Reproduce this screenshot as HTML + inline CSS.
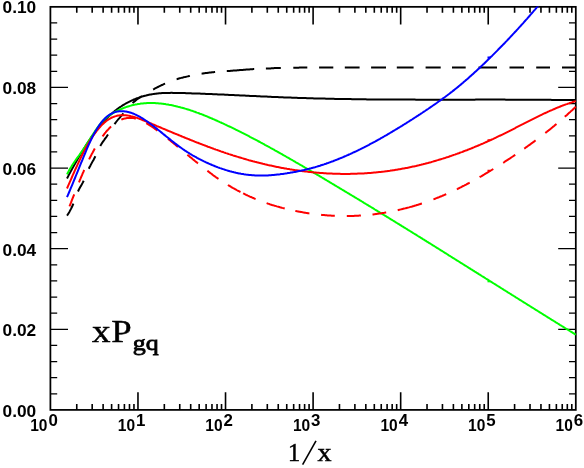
<!DOCTYPE html>
<html><head><meta charset="utf-8"><title>xPgq</title>
<style>html,body{margin:0;padding:0;background:#fff;}body{width:584px;height:468px;overflow:hidden;font-family:"Liberation Sans",sans-serif;}</style></head>
<body>
<svg width="584" height="468" viewBox="0 0 584 468" style="display:block">
<rect width="584" height="468" fill="#fff"/>
<defs><clipPath id="cp"><rect x="49.4" y="6.449999999999999" width="527.4" height="404.44999999999993"/></clipPath></defs>
<rect x="50.4" y="6.85" width="525.40" height="403.05" fill="none" stroke="#000" stroke-width="1.75"/>
<path d="M76.76,409.9v-5.9M76.76,6.85v5.9M92.18,409.9v-5.9M92.18,6.85v5.9M103.12,409.9v-5.9M103.12,6.85v5.9M111.61,409.9v-5.9M111.61,6.85v5.9M118.54,409.9v-5.9M118.54,6.85v5.9M124.40,409.9v-5.9M124.40,6.85v5.9M129.48,409.9v-5.9M129.48,6.85v5.9M133.96,409.9v-5.9M133.96,6.85v5.9M137.97,409.9v-17.6M137.97,6.85v17.6M164.33,409.9v-5.9M164.33,6.85v5.9M179.75,409.9v-5.9M179.75,6.85v5.9M190.69,409.9v-5.9M190.69,6.85v5.9M199.17,409.9v-5.9M199.17,6.85v5.9M206.11,409.9v-5.9M206.11,6.85v5.9M211.97,409.9v-5.9M211.97,6.85v5.9M217.05,409.9v-5.9M217.05,6.85v5.9M221.53,409.9v-5.9M221.53,6.85v5.9M225.53,409.9v-17.6M225.53,6.85v17.6M251.89,409.9v-5.9M251.89,6.85v5.9M267.31,409.9v-5.9M267.31,6.85v5.9M278.25,409.9v-5.9M278.25,6.85v5.9M286.74,409.9v-5.9M286.74,6.85v5.9M293.67,409.9v-5.9M293.67,6.85v5.9M299.54,409.9v-5.9M299.54,6.85v5.9M304.61,409.9v-5.9M304.61,6.85v5.9M309.09,409.9v-5.9M309.09,6.85v5.9M313.10,409.9v-17.6M313.10,6.85v17.6M339.46,409.9v-5.9M339.46,6.85v5.9M354.88,409.9v-5.9M354.88,6.85v5.9M365.82,409.9v-5.9M365.82,6.85v5.9M374.31,409.9v-5.9M374.31,6.85v5.9M381.24,409.9v-5.9M381.24,6.85v5.9M387.10,409.9v-5.9M387.10,6.85v5.9M392.18,409.9v-5.9M392.18,6.85v5.9M396.66,409.9v-5.9M396.66,6.85v5.9M400.67,409.9v-17.6M400.67,6.85v17.6M427.03,409.9v-5.9M427.03,6.85v5.9M442.45,409.9v-5.9M442.45,6.85v5.9M453.39,409.9v-5.9M453.39,6.85v5.9M461.87,409.9v-5.9M461.87,6.85v5.9M468.81,409.9v-5.9M468.81,6.85v5.9M474.67,409.9v-5.9M474.67,6.85v5.9M479.75,409.9v-5.9M479.75,6.85v5.9M484.23,409.9v-5.9M484.23,6.85v5.9M488.23,409.9v-17.6M488.23,6.85v17.6M514.59,409.9v-5.9M514.59,6.85v5.9M530.01,409.9v-5.9M530.01,6.85v5.9M540.95,409.9v-5.9M540.95,6.85v5.9M549.44,409.9v-5.9M549.44,6.85v5.9M556.37,409.9v-5.9M556.37,6.85v5.9M562.24,409.9v-5.9M562.24,6.85v5.9M567.31,409.9v-5.9M567.31,6.85v5.9M571.79,409.9v-5.9M571.79,6.85v5.9" stroke="#000" stroke-width="1.6" fill="none"/>
<path d="M50.4,393.78h6.8M575.8,393.78h-6.8M50.4,377.66h6.8M575.8,377.66h-6.8M50.4,361.53h6.8M575.8,361.53h-6.8M50.4,345.41h6.8M575.8,345.41h-6.8M50.4,329.29h17.6M575.8,329.29h-17.6M50.4,313.17h6.8M575.8,313.17h-6.8M50.4,297.05h6.8M575.8,297.05h-6.8M50.4,280.92h6.8M575.8,280.92h-6.8M50.4,264.80h6.8M575.8,264.80h-6.8M50.4,248.68h17.6M575.8,248.68h-17.6M50.4,232.56h6.8M575.8,232.56h-6.8M50.4,216.44h6.8M575.8,216.44h-6.8M50.4,200.31h6.8M575.8,200.31h-6.8M50.4,184.19h6.8M575.8,184.19h-6.8M50.4,168.07h17.6M575.8,168.07h-17.6M50.4,151.95h6.8M575.8,151.95h-6.8M50.4,135.83h6.8M575.8,135.83h-6.8M50.4,119.70h6.8M575.8,119.70h-6.8M50.4,103.58h6.8M575.8,103.58h-6.8M50.4,87.46h17.6M575.8,87.46h-17.6M50.4,71.34h6.8M575.8,71.34h-6.8M50.4,55.22h6.8M575.8,55.22h-6.8M50.4,39.09h6.8M575.8,39.09h-6.8M50.4,22.97h6.8M575.8,22.97h-6.8" stroke="#000" stroke-width="1.3" fill="none"/>
<g clip-path="url(#cp)">
<polyline points="67.0,178.5 68.0,176.6 69.0,174.6 70.0,172.8 71.0,170.9 72.0,169.1 73.0,167.2 74.0,165.4 75.0,163.7 76.0,161.9 77.0,160.2 78.0,158.4 79.0,156.7 80.0,155.1 81.0,153.4 82.0,151.8 83.0,150.2 84.0,148.5 85.0,147.0 86.0,145.4 87.0,143.9 88.0,142.3 89.0,140.8 90.0,139.3 91.0,137.9 92.0,136.4 93.0,135.0 94.0,133.6 95.0,132.3 96.0,130.9 97.0,129.6 98.0,128.4 99.0,127.1 100.0,125.9 101.0,124.7 102.0,123.5 103.0,122.4 104.0,121.3 105.0,120.2 106.0,119.1 107.0,118.1 108.0,117.1 109.0,116.1 110.0,115.2 111.0,114.3 112.0,113.4 113.0,112.5 114.0,111.7 115.0,110.8 116.0,110.1 117.0,109.3 118.0,108.5 119.0,107.8 120.0,107.1 121.0,106.5 122.0,105.8 123.0,105.2 124.0,104.6 125.0,104.0 126.0,103.4 127.0,102.9 128.0,102.4 129.0,101.9 130.0,101.4 131.0,100.9 132.0,100.4 133.0,100.0 134.0,99.5 135.0,99.1 136.0,98.7 137.0,98.3 138.0,98.0 139.0,97.6 140.0,97.3 141.0,96.9 142.0,96.6 143.0,96.3 144.0,96.0 145.0,95.7 146.0,95.5 147.0,95.2 148.0,95.0 149.0,94.8 150.0,94.6 151.0,94.4 152.0,94.2 153.0,94.1 154.0,93.9 155.0,93.8 156.0,93.7 157.0,93.5 158.0,93.4 159.0,93.3 160.0,93.2 161.0,93.2 162.0,93.1 163.0,93.0 164.0,93.0 165.0,93.0 166.0,92.9 167.0,92.9 168.0,92.9 169.0,92.9 170.0,92.9 171.0,92.8 172.0,92.8 173.0,92.9 174.0,92.9 175.0,92.9 176.0,92.9 177.0,92.9 178.0,92.9 179.0,93.0 180.0,93.0 181.0,93.0 182.0,93.0 183.0,93.1 184.0,93.1 185.0,93.1 186.0,93.2 187.0,93.2 188.0,93.2 189.0,93.3 190.0,93.3 191.0,93.3 192.0,93.4 193.0,93.4 194.0,93.4 194.9,93.5 195.9,93.5 196.9,93.5 197.9,93.6 198.9,93.6 199.9,93.6 200.9,93.7 201.9,93.7 202.9,93.8 203.9,93.8 204.9,93.8 205.9,93.9 206.9,93.9 207.9,94.0 208.9,94.0 209.9,94.0 210.9,94.1 211.9,94.1 212.9,94.2 213.9,94.2 214.9,94.3 215.9,94.3 216.9,94.3 217.9,94.4 218.9,94.4 219.9,94.5 220.9,94.5 221.9,94.6 222.9,94.6 223.9,94.6 224.9,94.7 225.9,94.7 226.9,94.8 227.9,94.8 228.9,94.9 229.9,94.9 230.9,95.0 231.9,95.0 232.9,95.1 233.9,95.1 234.9,95.2 235.9,95.2 236.9,95.2 237.9,95.3 238.9,95.3 239.9,95.4 240.9,95.4 241.9,95.5 242.9,95.5 243.9,95.6 244.9,95.6 245.9,95.7 246.9,95.7 247.9,95.8 248.9,95.8 249.9,95.9 250.9,95.9 251.9,96.0 252.9,96.0 253.9,96.1 254.9,96.1 255.9,96.1 256.9,96.2 257.9,96.2 258.9,96.3 259.9,96.3 260.9,96.4 261.9,96.4 262.9,96.5 263.9,96.5 264.9,96.6 265.9,96.6 266.9,96.6 267.9,96.7 268.9,96.7 269.9,96.8 270.9,96.8 271.9,96.9 272.9,96.9 273.9,97.0 274.9,97.0 275.9,97.0 276.9,97.1 277.9,97.1 278.9,97.2 279.9,97.2 280.9,97.2 281.9,97.3 282.9,97.3 283.9,97.4 284.9,97.4 285.9,97.4 286.9,97.5 287.9,97.5 288.9,97.6 289.9,97.6 290.9,97.6 291.9,97.7 292.9,97.7 293.9,97.7 294.9,97.8 295.9,97.8 296.9,97.8 297.9,97.9 298.9,97.9 299.9,97.9 300.9,98.0 301.9,98.0 302.9,98.0 303.9,98.1 304.9,98.1 305.9,98.1 306.9,98.2 307.9,98.2 308.9,98.2 309.9,98.3 310.9,98.3 311.9,98.3 312.9,98.3 313.9,98.4 314.9,98.4 315.9,98.4 316.9,98.4 317.9,98.5 318.9,98.5 319.9,98.5 320.9,98.5 321.9,98.6 322.9,98.6 323.9,98.6 324.9,98.6 325.9,98.7 326.9,98.7 327.9,98.7 328.9,98.7 329.9,98.8 330.9,98.8 331.9,98.8 332.9,98.8 333.9,98.8 334.9,98.9 335.9,98.9 336.9,98.9 337.9,98.9 338.9,98.9 339.9,99.0 340.9,99.0 341.9,99.0 342.9,99.0 343.9,99.0 344.9,99.0 345.9,99.1 346.9,99.1 347.9,99.1 348.9,99.1 349.9,99.1 350.9,99.1 351.9,99.2 352.9,99.2 353.9,99.2 354.9,99.2 355.9,99.2 356.9,99.2 357.9,99.2 358.9,99.3 359.9,99.3 360.9,99.3 361.9,99.3 362.9,99.3 363.9,99.3 364.9,99.3 365.9,99.3 366.9,99.4 367.9,99.4 368.9,99.4 369.9,99.4 370.9,99.4 371.9,99.4 372.9,99.4 373.9,99.4 374.9,99.4 375.9,99.4 376.9,99.5 377.9,99.5 378.9,99.5 379.9,99.5 380.9,99.5 381.9,99.5 382.9,99.5 383.9,99.5 384.9,99.5 385.9,99.5 386.9,99.5 387.9,99.5 388.9,99.5 389.9,99.5 390.9,99.6 391.9,99.6 392.9,99.6 393.9,99.6 394.9,99.6 395.9,99.6 396.9,99.6 397.9,99.6 398.9,99.6 399.9,99.6 400.9,99.6 401.9,99.6 402.9,99.6 403.9,99.6 404.9,99.6 405.9,99.6 406.9,99.6 407.9,99.6 408.9,99.6 409.9,99.6 410.9,99.6 411.9,99.6 412.9,99.6 413.9,99.6 414.9,99.6 415.9,99.7 416.9,99.7 417.9,99.7 418.9,99.7 419.9,99.7 420.9,99.7 421.9,99.7 422.9,99.7 423.9,99.7 424.9,99.7 425.9,99.7 426.9,99.7 427.9,99.7 428.9,99.7 429.9,99.7 430.9,99.7 431.9,99.7 432.9,99.7 433.9,99.7 434.9,99.7 435.9,99.7 436.9,99.7 437.9,99.7 438.9,99.7 439.9,99.7 440.9,99.7 441.9,99.7 442.9,99.7 443.9,99.7 444.9,99.7 445.9,99.7 446.9,99.7 447.9,99.7 448.8,99.7 449.8,99.7 450.8,99.7 451.8,99.7 452.8,99.7 453.8,99.7 454.8,99.7 455.8,99.7 456.8,99.7 457.8,99.7 458.8,99.7 459.8,99.7 460.8,99.7 461.8,99.7 462.8,99.7 463.8,99.7 464.8,99.7 465.8,99.7 466.8,99.7 467.8,99.7 468.8,99.7 469.8,99.7 470.8,99.7 471.8,99.7 472.8,99.7 473.8,99.7 474.8,99.7 475.8,99.6 476.8,99.6 477.8,99.6 478.8,99.6 479.8,99.6 480.8,99.6 481.8,99.6 482.8,99.6 483.8,99.6 484.8,99.6 485.8,99.6 486.8,99.6 487.8,99.6 488.8,99.6 489.8,99.6 490.8,99.6 491.8,99.6 492.8,99.6 493.8,99.6 494.8,99.6 495.8,99.6 496.8,99.6 497.8,99.6 498.8,99.6 499.8,99.6 500.8,99.6 501.8,99.6 502.8,99.6 503.8,99.6 504.8,99.6 505.8,99.7 506.8,99.7 507.8,99.7 508.8,99.7 509.8,99.7 510.8,99.7 511.8,99.7 512.8,99.7 513.8,99.7 514.8,99.7 515.8,99.7 516.8,99.7 517.8,99.7 518.8,99.7 519.8,99.7 520.8,99.7 521.8,99.7 522.8,99.7 523.8,99.7 524.8,99.7 525.8,99.7 526.8,99.7 527.8,99.7 528.8,99.7 529.8,99.7 530.8,99.7 531.8,99.7 532.8,99.7 533.8,99.7 534.8,99.7 535.8,99.7 536.8,99.7 537.8,99.8 538.8,99.8 539.8,99.8 540.8,99.8 541.8,99.8 542.8,99.8 543.8,99.8 544.8,99.8 545.8,99.8 546.8,99.8 547.8,99.8 548.8,99.8 549.8,99.8 550.8,99.8 551.8,99.9 552.8,99.9 553.8,99.9 554.8,99.9 555.8,99.9 556.8,99.9 557.8,99.9 558.8,99.9 559.8,99.9 560.8,99.9 561.8,99.9 562.8,100.0 563.8,100.0 564.8,100.0 565.8,100.0 566.8,100.0 567.8,100.0 568.8,100.0 569.8,100.0 570.8,100.1 571.8,100.1 572.8,100.1 573.8,100.1 574.8,100.1 575.8,100.1" fill="none" stroke="#000" stroke-width="2.0" stroke-linejoin="round"/>
<polyline points="67.0,215.6 67.8,214.5 68.6,213.2 69.4,211.9 70.2,210.4 71.0,208.9 71.8,207.2 72.6,205.5 73.4,203.7" fill="none" stroke="#000" stroke-width="2.0" stroke-linejoin="round"/>
<polyline points="78.0,191.5 78.8,189.8 79.6,188.3 80.4,186.8 81.3,185.4 82.1,183.9 82.9,182.4 83.7,180.7" fill="none" stroke="#000" stroke-width="2.0" stroke-linejoin="round"/>
<polyline points="88.8,168.7 89.6,167.0 90.5,165.4 91.3,163.9 92.1,162.4 92.9,160.9 93.8,159.4 94.6,157.8 95.4,156.2" fill="none" stroke="#000" stroke-width="2.0" stroke-linejoin="round"/>
<polyline points="100.3,145.9 101.1,144.6 101.8,143.4 102.6,142.2 103.4,141.1 104.2,140.0 104.9,138.9 105.7,137.8 106.5,136.8 107.2,135.7 108.0,134.5" fill="none" stroke="#000" stroke-width="2.0" stroke-linejoin="round"/>
<polyline points="114.5,124.2 115.3,123.1 116.1,122.0 116.9,121.0 117.7,120.0 118.5,119.0 119.4,118.1 120.2,117.1 121.0,116.2 121.8,115.3 122.6,114.3 123.4,113.4" fill="none" stroke="#000" stroke-width="2.0" stroke-linejoin="round"/>
<polyline points="132.5,103.1 133.3,102.4 134.1,101.7 134.9,101.1 135.7,100.5 136.5,99.8 137.2,99.3 138.0,98.7 138.8,98.1 139.6,97.6 140.4,97.1 141.2,96.5 142.0,96.0" fill="none" stroke="#000" stroke-width="2.0" stroke-linejoin="round"/>
<polyline points="153.1,89.5 153.9,89.1 154.7,88.6 155.5,88.2 156.3,87.8 157.1,87.4 157.9,87.0 158.7,86.6 159.5,86.2 160.3,85.8 161.1,85.4 161.9,85.0 162.7,84.7 163.5,84.3 164.3,83.9 165.1,83.6" fill="none" stroke="#000" stroke-width="2.0" stroke-linejoin="round"/>
<polyline points="176.6,79.2 177.4,79.0 178.2,78.7 178.9,78.5 179.7,78.3 180.5,78.1 181.3,77.9 182.1,77.7 182.9,77.5 183.6,77.3 184.4,77.1 185.2,76.9 186.0,76.8 186.8,76.6 187.6,76.4 188.3,76.2 189.1,76.1 189.9,75.9" fill="none" stroke="#000" stroke-width="2.0" stroke-linejoin="round"/>
<polyline points="201.6,73.7 202.4,73.6 203.2,73.5 204.0,73.3 204.8,73.2 205.6,73.1 206.4,73.0 207.2,72.9 208.0,72.8 208.7,72.7 209.5,72.6 210.3,72.5 211.1,72.4 211.9,72.3 212.7,72.2 213.5,72.2 214.3,72.1 215.1,72.0" fill="none" stroke="#000" stroke-width="2.0" stroke-linejoin="round"/>
<polyline points="226.8,71.1 227.6,71.1 228.4,71.0 229.2,71.0 230.0,70.9 230.8,70.8 231.6,70.8 232.4,70.7 233.2,70.6 234.1,70.6 234.9,70.5 235.7,70.4 236.5,70.4 237.3,70.3 238.1,70.2 238.9,70.2 239.7,70.1 240.5,70.0 241.3,70.0 242.1,69.9 242.9,69.9 243.7,69.8 244.5,69.7 245.3,69.7 246.1,69.6 246.9,69.6 247.8,69.5 248.6,69.4 249.4,69.4 250.2,69.3 251.0,69.3 251.8,69.2 252.6,69.2 253.4,69.1 254.2,69.1" fill="none" stroke="#000" stroke-width="2.0" stroke-linejoin="round"/>
<polyline points="265.9,68.6 266.7,68.6 267.5,68.5 268.3,68.5 269.0,68.4 269.8,68.4 270.6,68.4 271.4,68.3 272.2,68.3 273.0,68.2 273.7,68.2 274.5,68.1 275.3,68.1 276.1,68.1 276.9,68.0 277.7,68.0 278.4,68.0 279.2,67.9 280.0,67.9 280.8,67.9" fill="none" stroke="#000" stroke-width="2.0" stroke-linejoin="round"/>
<polyline points="293.3,67.7 294.1,67.7 294.9,67.7 295.6,67.7 296.4,67.7 297.2,67.7 298.0,67.7 298.7,67.7 299.5,67.6 300.3,67.6 301.1,67.6 301.9,67.6 302.6,67.6 303.4,67.6 304.2,67.6 305.0,67.6 305.7,67.6 306.5,67.6 307.3,67.6" fill="none" stroke="#000" stroke-width="2.0" stroke-linejoin="round"/>
<polyline points="319.1,67.6 319.9,67.6 320.7,67.6 321.5,67.5 322.3,67.5 323.0,67.5 323.8,67.5 324.6,67.5 325.4,67.5 326.2,67.5 327.0,67.5 327.8,67.5 328.6,67.5 329.4,67.5 330.1,67.5 330.9,67.5 331.7,67.5 332.5,67.5 333.3,67.5" fill="none" stroke="#000" stroke-width="2.0" stroke-linejoin="round"/>
<polyline points="344.8,67.5 345.6,67.5 346.4,67.5 347.1,67.5 347.9,67.5 348.7,67.5 349.5,67.5 350.3,67.5 351.0,67.5 351.8,67.5 352.6,67.5 353.4,67.5 354.1,67.5 354.9,67.5 355.7,67.5 356.5,67.5 357.3,67.5 358.0,67.5 358.8,67.5 359.6,67.5" fill="none" stroke="#000" stroke-width="2.0" stroke-linejoin="round"/>
<polyline points="371.1,67.5 371.9,67.5 372.7,67.5 373.5,67.5 374.2,67.5 375.0,67.5 375.8,67.5 376.6,67.5 377.4,67.5 378.2,67.5 378.9,67.5 379.7,67.5 380.5,67.5 381.3,67.5 382.1,67.5 382.9,67.5 383.6,67.5 384.4,67.5 385.2,67.5 386.0,67.5" fill="none" stroke="#000" stroke-width="2.0" stroke-linejoin="round"/>
<polyline points="396.8,67.5 397.6,67.5 398.4,67.5 399.2,67.5 400.0,67.5 400.8,67.5 401.6,67.5 402.4,67.5 403.2,67.5 404.0,67.5 404.8,67.5 405.6,67.5 406.4,67.5 407.2,67.5 408.0,67.5 408.8,67.5 409.6,67.5 410.4,67.5 411.2,67.5 412.0,67.5 412.8,67.5 413.6,67.5" fill="none" stroke="#000" stroke-width="2.0" stroke-linejoin="round"/>
<polyline points="425.6,67.5 426.4,67.5 427.2,67.5 428.0,67.5 428.8,67.5 429.6,67.5 430.4,67.5 431.2,67.5 432.0,67.5 432.8,67.5 433.5,67.5 434.3,67.5 435.1,67.5 435.9,67.5 436.7,67.5 437.5,67.5 438.3,67.5 439.1,67.5 439.9,67.5 440.7,67.5" fill="none" stroke="#000" stroke-width="2.0" stroke-linejoin="round"/>
<polyline points="452.0,67.5 452.8,67.5 453.6,67.5 454.4,67.5 455.2,67.5 456.0,67.5 456.8,67.5 457.6,67.5 458.4,67.5 459.3,67.5 460.1,67.5 460.9,67.5 461.7,67.5 462.5,67.5 463.3,67.5 464.1,67.5 464.9,67.5 465.7,67.5" fill="none" stroke="#000" stroke-width="2.0" stroke-linejoin="round"/>
<polyline points="478.5,67.5 479.3,67.5 480.1,67.5 480.9,67.5 481.7,67.5 482.5,67.5 483.3,67.5 484.1,67.5 484.9,67.5 485.7,67.5 486.5,67.5 487.3,67.5 488.2,67.5 489.0,67.5 489.8,67.5 490.6,67.5 491.4,67.5 492.2,67.5 493.0,67.5 493.8,67.5 494.6,67.5 495.4,67.5 496.2,67.5 497.0,67.5" fill="none" stroke="#000" stroke-width="2.0" stroke-linejoin="round"/>
<polyline points="509.5,67.5 510.3,67.5 511.1,67.5 511.9,67.5 512.7,67.5 513.5,67.5 514.3,67.5 515.1,67.5 515.9,67.5 516.8,67.5 517.6,67.5 518.4,67.5 519.2,67.5 520.0,67.5 520.8,67.5 521.6,67.5 522.4,67.5 523.2,67.5 524.0,67.5" fill="none" stroke="#000" stroke-width="2.0" stroke-linejoin="round"/>
<polyline points="536.2,67.5 537.0,67.5 537.8,67.5 538.6,67.5 539.4,67.5 540.3,67.5 541.1,67.5 541.9,67.5 542.7,67.5 543.5,67.5 544.3,67.5 545.1,67.5 545.9,67.5 546.8,67.5 547.6,67.5 548.4,67.5 549.2,67.5 550.0,67.5" fill="none" stroke="#000" stroke-width="2.0" stroke-linejoin="round"/>
<polyline points="562.0,67.5 562.8,67.5 563.6,67.5 564.4,67.5 565.2,67.5 566.1,67.5 566.9,67.5 567.7,67.5 568.5,67.5 569.3,67.5 570.1,67.5 570.9,67.5 571.7,67.5 572.6,67.5 573.4,67.5 574.2,67.5 575.0,67.5 575.8,67.5" fill="none" stroke="#000" stroke-width="2.0" stroke-linejoin="round"/>
<path d="M487.5,281.32H490.4" stroke="#00ff00" stroke-width="2.0" fill="none"/>
<polyline points="67.0,174.4 68.0,172.5 69.0,170.6 70.0,168.8 71.0,167.2 72.0,165.5 73.0,164.0 74.0,162.5 75.0,161.0 76.0,159.6 77.0,158.2 78.0,156.8 79.0,155.5 80.0,154.1 81.0,152.7 82.0,151.3 83.0,149.8 84.0,148.3 85.0,146.8 86.0,145.3 87.0,143.7 88.0,142.1 89.0,140.6 90.0,139.0 91.0,137.4 92.0,135.8 93.0,134.3 94.0,132.7 95.0,131.2 96.0,129.8 97.0,128.3 98.0,126.9 99.0,125.6 100.0,124.3 101.0,123.0 102.0,121.9 103.0,120.8 104.0,119.7 105.0,118.8 106.0,117.9 107.0,117.1 108.0,116.3 109.0,115.6 110.0,114.9 111.0,114.3 112.0,113.7 113.0,113.1 114.0,112.5 115.0,112.0 116.0,111.5 117.0,111.0 118.0,110.5 119.0,110.0 120.0,109.5 121.0,109.1 122.0,108.7 123.0,108.3 124.0,107.9 125.0,107.5 126.0,107.1 127.0,106.8 128.0,106.5 129.0,106.2 130.0,105.9 131.0,105.6 132.0,105.3 133.0,105.1 134.0,104.9 135.0,104.6 136.0,104.4 137.0,104.3 138.0,104.1 139.0,103.9 140.0,103.8 141.0,103.6 142.0,103.5 143.0,103.4 144.0,103.3 145.0,103.3 146.0,103.2 147.0,103.1 148.0,103.1 149.0,103.1 150.0,103.0 151.0,103.0 152.0,103.0 153.0,103.1 154.0,103.1 155.0,103.1 156.0,103.2 157.0,103.2 158.0,103.3 159.0,103.4 160.0,103.5 161.0,103.6 162.0,103.7 163.0,103.8 164.0,104.0 165.0,104.1 166.0,104.3 167.0,104.4 168.0,104.6 169.0,104.8 170.0,104.9 171.0,105.1 172.0,105.3 173.0,105.5 174.0,105.8 175.0,106.0 176.0,106.2 177.0,106.4 178.0,106.7 179.0,106.9 180.0,107.2 181.0,107.5 182.0,107.7 183.0,108.0 184.0,108.3 185.0,108.6 186.0,108.9 187.0,109.2 188.0,109.5 189.0,109.8 190.0,110.1 191.0,110.5 192.0,110.8 193.0,111.1 194.0,111.5 194.9,111.8 195.9,112.2 196.9,112.6 197.9,112.9 198.9,113.3 199.9,113.7 200.9,114.0 201.9,114.4 202.9,114.8 203.9,115.2 204.9,115.6 205.9,116.0 206.9,116.4 207.9,116.8 208.9,117.3 209.9,117.7 210.9,118.1 211.9,118.5 212.9,119.0 213.9,119.4 214.9,119.8 215.9,120.3 216.9,120.7 217.9,121.2 218.9,121.6 219.9,122.1 220.9,122.5 221.9,123.0 222.9,123.4 223.9,123.9 224.9,124.4 225.9,124.8 226.9,125.3 227.9,125.8 228.9,126.3 229.9,126.7 230.9,127.2 231.9,127.7 232.9,128.2 233.9,128.7 234.9,129.2 235.9,129.7 236.9,130.1 237.9,130.6 238.9,131.1 239.9,131.6 240.9,132.1 241.9,132.7 242.9,133.2 243.9,133.7 244.9,134.2 245.9,134.7 246.9,135.2 247.9,135.7 248.9,136.2 249.9,136.8 250.9,137.3 251.9,137.8 252.9,138.3 253.9,138.9 254.9,139.4 255.9,139.9 256.9,140.4 257.9,141.0 258.9,141.5 259.9,142.0 260.9,142.6 261.9,143.1 262.9,143.7 263.9,144.2 264.9,144.8 265.9,145.3 266.9,145.8 267.9,146.4 268.9,146.9 269.9,147.5 270.9,148.1 271.9,148.6 272.9,149.2 273.9,149.7 274.9,150.3 275.9,150.8 276.9,151.4 277.9,152.0 278.9,152.5 279.9,153.1 280.9,153.7 281.9,154.2 282.9,154.8 283.9,155.4 284.9,155.9 285.9,156.5 286.9,157.1 287.9,157.6 288.9,158.2 289.9,158.8 290.9,159.4 291.9,159.9 292.9,160.5 293.9,161.1 294.9,161.7 295.9,162.3 296.9,162.8 297.9,163.4 298.9,164.0 299.9,164.6 300.9,165.2 301.9,165.7 302.9,166.3 303.9,166.9 304.9,167.5 305.9,168.1 306.9,168.7 307.9,169.3 308.9,169.8 309.9,170.4 310.9,171.0 311.9,171.6 312.9,172.2 313.9,172.8 314.9,173.4 315.9,174.0 316.9,174.6 317.9,175.1 318.9,175.7 319.9,176.3 320.9,176.9 321.9,177.5 322.9,178.1 323.9,178.7 324.9,179.3 325.9,179.9 326.9,180.5 327.9,181.1 328.9,181.7 329.9,182.3 330.9,182.9 331.9,183.5 332.9,184.1 333.9,184.7 334.9,185.3 335.9,185.9 336.9,186.5 337.9,187.1 338.9,187.7 339.9,188.3 340.9,188.9 341.9,189.5 342.9,190.1 343.9,190.7 344.9,191.3 345.9,191.9 346.9,192.5 347.9,193.1 348.9,193.7 349.9,194.3 350.9,194.9 351.9,195.5 352.9,196.1 353.9,196.7 354.9,197.3 355.9,197.9 356.9,198.5 357.9,199.1 358.9,199.7 359.9,200.3 360.9,200.9 361.9,201.5 362.9,202.1 363.9,202.8 364.9,203.4 365.9,204.0 366.9,204.6 367.9,205.2 368.9,205.8 369.9,206.4 370.9,207.0 371.9,207.6 372.9,208.2 373.9,208.8 374.9,209.5 375.9,210.1 376.9,210.7 377.9,211.3 378.9,211.9 379.9,212.5 380.9,213.1 381.9,213.7 382.9,214.4 383.9,215.0 384.9,215.6 385.9,216.2 386.9,216.8 387.9,217.4 388.9,218.0 389.9,218.7 390.9,219.3 391.9,219.9 392.9,220.5 393.9,221.1 394.9,221.7 395.9,222.4 396.9,223.0 397.9,223.6 398.9,224.2 399.9,224.8 400.9,225.4 401.9,226.1 402.9,226.7 403.9,227.3 404.9,227.9 405.9,228.5 406.9,229.1 407.9,229.8 408.9,230.4 409.9,231.0 410.9,231.6 411.9,232.2 412.9,232.9 413.9,233.5 414.9,234.1 415.9,234.7 416.9,235.3 417.9,236.0 418.9,236.6 419.9,237.2 420.9,237.8 421.9,238.4 422.9,239.1 423.9,239.7 424.9,240.3 425.9,240.9 426.9,241.6 427.9,242.2 428.9,242.8 429.9,243.4 430.9,244.0 431.9,244.7 432.9,245.3 433.9,245.9 434.9,246.5 435.9,247.2 436.9,247.8 437.9,248.4 438.9,249.0 439.9,249.7 440.9,250.3 441.9,250.9 442.9,251.5 443.9,252.2 444.9,252.8 445.9,253.4 446.9,254.0 447.9,254.7 448.8,255.3 449.8,255.9 450.8,256.5 451.8,257.2 452.8,257.8 453.8,258.4 454.8,259.0 455.8,259.7 456.8,260.3 457.8,260.9 458.8,261.5 459.8,262.2 460.8,262.8 461.8,263.4 462.8,264.0 463.8,264.7 464.8,265.3 465.8,265.9 466.8,266.5 467.8,267.2 468.8,267.8 469.8,268.4 470.8,269.1 471.8,269.7 472.8,270.3 473.8,270.9 474.8,271.6 475.8,272.2 476.8,272.8 477.8,273.4 478.8,274.1 479.8,274.7 480.8,275.3 481.8,276.0 482.8,276.6 483.8,277.2 484.8,277.8 485.8,278.5 486.8,279.1 487.8,279.7 488.8,280.3 489.8,281.0 490.8,281.6 491.8,282.2 492.8,282.9 493.8,283.5 494.8,284.1 495.8,284.7 496.8,285.4 497.8,286.0 498.8,286.6 499.8,287.2 500.8,287.9 501.8,288.5 502.8,289.1 503.8,289.8 504.8,290.4 505.8,291.0 506.8,291.6 507.8,292.3 508.8,292.9 509.8,293.5 510.8,294.1 511.8,294.8 512.8,295.4 513.8,296.0 514.8,296.6 515.8,297.3 516.8,297.9 517.8,298.5 518.8,299.2 519.8,299.8 520.8,300.4 521.8,301.0 522.8,301.7 523.8,302.3 524.8,302.9 525.8,303.5 526.8,304.2 527.8,304.8 528.8,305.4 529.8,306.0 530.8,306.7 531.8,307.3 532.8,307.9 533.8,308.5 534.8,309.2 535.8,309.8 536.8,310.4 537.8,311.0 538.8,311.7 539.8,312.3 540.8,312.9 541.8,313.5 542.8,314.2 543.8,314.8 544.8,315.4 545.8,316.0 546.8,316.7 547.8,317.3 548.8,317.9 549.8,318.5 550.8,319.2 551.8,319.8 552.8,320.4 553.8,321.0 554.8,321.6 555.8,322.3 556.8,322.9 557.8,323.5 558.8,324.1 559.8,324.8 560.8,325.4 561.8,326.0 562.8,326.6 563.8,327.2 564.8,327.9 565.8,328.5 566.8,329.1 567.8,329.7 568.8,330.3 569.8,331.0 570.8,331.6 571.8,332.2 572.8,332.8 573.8,333.4 574.8,334.1 575.8,334.7" fill="none" stroke="#00ff00" stroke-width="2.0" stroke-linejoin="round"/>
<path d="M487.5,140.18H490.4" stroke="#ff0000" stroke-width="2.0" fill="none"/>
<polyline points="67.0,188.5 68.0,186.2 69.0,183.9 70.0,181.6 71.0,179.3 72.0,177.0 73.0,174.7 74.0,172.5 75.0,170.2 76.0,168.0 77.0,165.8 78.0,163.6 79.0,161.5 80.0,159.4 81.0,157.3 82.0,155.3 83.0,153.3 84.0,151.3 85.0,149.4 86.0,147.6 87.0,145.8 88.0,144.0 89.0,142.3 90.0,140.7 91.0,139.1 92.0,137.5 93.0,136.0 94.0,134.6 95.0,133.2 96.0,131.8 97.0,130.5 98.0,129.3 99.0,128.1 100.0,127.0 101.0,125.9 102.0,124.9 103.0,123.9 104.0,123.0 105.0,122.1 106.0,121.3 107.0,120.5 108.0,119.8 109.0,119.2 110.0,118.6 111.0,118.0 112.0,117.5 113.0,117.1 114.0,116.7 115.0,116.4 116.0,116.1 117.0,115.8 118.0,115.6 119.0,115.4 120.0,115.3 121.0,115.2 122.0,115.2 123.0,115.2 124.0,115.2 125.0,115.2 126.0,115.3 127.0,115.4 128.0,115.6 129.0,115.7 130.0,115.9 131.0,116.2 132.0,116.4 133.0,116.7 134.0,117.0 135.0,117.3 136.0,117.6 137.0,117.9 138.0,118.3 139.0,118.6 140.0,119.0 141.0,119.4 142.0,119.8 143.0,120.2 144.0,120.6 145.0,121.0 146.0,121.4 147.0,121.9 148.0,122.3 149.0,122.7 150.0,123.1 151.0,123.5 152.0,124.0 153.0,124.4 154.0,124.8 155.0,125.2 156.0,125.6 157.0,126.1 158.0,126.5 159.0,126.9 160.0,127.3 161.0,127.7 162.0,128.2 163.0,128.6 164.0,129.0 165.0,129.4 166.0,129.8 167.0,130.3 168.0,130.7 169.0,131.1 170.0,131.5 171.0,131.9 172.0,132.3 173.0,132.8 174.0,133.2 175.0,133.6 176.0,134.0 177.0,134.4 178.0,134.8 179.0,135.2 180.0,135.6 181.0,136.0 182.0,136.5 183.0,136.9 184.0,137.3 185.0,137.7 186.0,138.1 187.0,138.5 188.0,138.9 189.0,139.3 190.0,139.7 191.0,140.1 192.0,140.5 193.0,140.9 194.0,141.3 194.9,141.7 195.9,142.1 196.9,142.5 197.9,142.8 198.9,143.2 199.9,143.6 200.9,144.0 201.9,144.4 202.9,144.8 203.9,145.1 204.9,145.5 205.9,145.9 206.9,146.3 207.9,146.7 208.9,147.0 209.9,147.4 210.9,147.8 211.9,148.1 212.9,148.5 213.9,148.9 214.9,149.2 215.9,149.6 216.9,149.9 217.9,150.3 218.9,150.6 219.9,151.0 220.9,151.4 221.9,151.7 222.9,152.0 223.9,152.4 224.9,152.7 225.9,153.1 226.9,153.4 227.9,153.7 228.9,154.1 229.9,154.4 230.9,154.7 231.9,155.0 232.9,155.4 233.9,155.7 234.9,156.0 235.9,156.3 236.9,156.6 237.9,156.9 238.9,157.2 239.9,157.5 240.9,157.8 241.9,158.1 242.9,158.4 243.9,158.7 244.9,159.0 245.9,159.3 246.9,159.6 247.9,159.9 248.9,160.2 249.9,160.4 250.9,160.7 251.9,161.0 252.9,161.3 253.9,161.5 254.9,161.8 255.9,162.0 256.9,162.3 257.9,162.6 258.9,162.8 259.9,163.1 260.9,163.3 261.9,163.5 262.9,163.8 263.9,164.0 264.9,164.3 265.9,164.5 266.9,164.7 267.9,165.0 268.9,165.2 269.9,165.4 270.9,165.6 271.9,165.8 272.9,166.1 273.9,166.3 274.9,166.5 275.9,166.7 276.9,166.9 277.9,167.1 278.9,167.3 279.9,167.5 280.9,167.7 281.9,167.9 282.9,168.0 283.9,168.2 284.9,168.4 285.9,168.6 286.9,168.8 287.9,168.9 288.9,169.1 289.9,169.3 290.9,169.4 291.9,169.6 292.9,169.7 293.9,169.9 294.9,170.1 295.9,170.2 296.9,170.3 297.9,170.5 298.9,170.6 299.9,170.8 300.9,170.9 301.9,171.0 302.9,171.2 303.9,171.3 304.9,171.4 305.9,171.5 306.9,171.6 307.9,171.8 308.9,171.9 309.9,172.0 310.9,172.1 311.9,172.2 312.9,172.3 313.9,172.4 314.9,172.5 315.9,172.6 316.9,172.7 317.9,172.7 318.9,172.8 319.9,172.9 320.9,173.0 321.9,173.1 322.9,173.1 323.9,173.2 324.9,173.3 325.9,173.3 326.9,173.4 327.9,173.4 328.9,173.5 329.9,173.5 330.9,173.6 331.9,173.6 332.9,173.7 333.9,173.7 334.9,173.7 335.9,173.8 336.9,173.8 337.9,173.8 338.9,173.8 339.9,173.8 340.9,173.9 341.9,173.9 342.9,173.9 343.9,173.9 344.9,173.9 345.9,173.9 346.9,173.9 347.9,173.9 348.9,173.9 349.9,173.9 350.9,173.8 351.9,173.8 352.9,173.8 353.9,173.8 354.9,173.7 355.9,173.7 356.9,173.7 357.9,173.6 358.9,173.6 359.9,173.6 360.9,173.5 361.9,173.5 362.9,173.4 363.9,173.4 364.9,173.3 365.9,173.2 366.9,173.2 367.9,173.1 368.9,173.0 369.9,172.9 370.9,172.9 371.9,172.8 372.9,172.7 373.9,172.6 374.9,172.5 375.9,172.4 376.9,172.3 377.9,172.2 378.9,172.1 379.9,172.0 380.9,171.9 381.9,171.8 382.9,171.7 383.9,171.6 384.9,171.4 385.9,171.3 386.9,171.2 387.9,171.0 388.9,170.9 389.9,170.8 390.9,170.6 391.9,170.5 392.9,170.3 393.9,170.2 394.9,170.0 395.9,169.8 396.9,169.7 397.9,169.5 398.9,169.3 399.9,169.2 400.9,169.0 401.9,168.8 402.9,168.6 403.9,168.5 404.9,168.3 405.9,168.1 406.9,167.9 407.9,167.7 408.9,167.5 409.9,167.3 410.9,167.1 411.9,166.8 412.9,166.6 413.9,166.4 414.9,166.2 415.9,166.0 416.9,165.7 417.9,165.5 418.9,165.3 419.9,165.0 420.9,164.8 421.9,164.5 422.9,164.3 423.9,164.0 424.9,163.8 425.9,163.5 426.9,163.2 427.9,163.0 428.9,162.7 429.9,162.4 430.9,162.2 431.9,161.9 432.9,161.6 433.9,161.3 434.9,161.0 435.9,160.7 436.9,160.4 437.9,160.1 438.9,159.8 439.9,159.5 440.9,159.2 441.9,158.9 442.9,158.6 443.9,158.3 444.9,158.0 445.9,157.6 446.9,157.3 447.9,157.0 448.8,156.7 449.8,156.3 450.8,156.0 451.8,155.6 452.8,155.3 453.8,154.9 454.8,154.6 455.8,154.2 456.8,153.9 457.8,153.5 458.8,153.2 459.8,152.8 460.8,152.4 461.8,152.1 462.8,151.7 463.8,151.3 464.8,150.9 465.8,150.5 466.8,150.2 467.8,149.8 468.8,149.4 469.8,149.0 470.8,148.6 471.8,148.2 472.8,147.8 473.8,147.4 474.8,146.9 475.8,146.5 476.8,146.1 477.8,145.7 478.8,145.3 479.8,144.9 480.8,144.4 481.8,144.0 482.8,143.6 483.8,143.1 484.8,142.7 485.8,142.2 486.8,141.8 487.8,141.3 488.8,140.9 489.8,140.4 490.8,140.0 491.8,139.5 492.8,139.1 493.8,138.6 494.8,138.1 495.8,137.7 496.8,137.2 497.8,136.7 498.8,136.2 499.8,135.7 500.8,135.3 501.8,134.8 502.8,134.3 503.8,133.8 504.8,133.3 505.8,132.8 506.8,132.3 507.8,131.8 508.8,131.3 509.8,130.8 510.8,130.3 511.8,129.8 512.8,129.3 513.8,128.8 514.8,128.3 515.8,127.7 516.8,127.2 517.8,126.7 518.8,126.2 519.8,125.7 520.8,125.2 521.8,124.7 522.8,124.2 523.8,123.6 524.8,123.1 525.8,122.6 526.8,122.1 527.8,121.6 528.8,121.1 529.8,120.6 530.8,120.1 531.8,119.6 532.8,119.1 533.8,118.6 534.8,118.1 535.8,117.6 536.8,117.1 537.8,116.6 538.8,116.1 539.8,115.6 540.8,115.1 541.8,114.7 542.8,114.2 543.8,113.7 544.8,113.2 545.8,112.8 546.8,112.3 547.8,111.8 548.8,111.4 549.8,110.9 550.8,110.5 551.8,110.1 552.8,109.6 553.8,109.2 554.8,108.8 555.8,108.3 556.8,107.9 557.8,107.5 558.8,107.1 559.8,106.7 560.8,106.3 561.8,105.9 562.8,105.5 563.8,105.1 564.8,104.8 565.8,104.4 566.8,104.1 567.8,103.7 568.8,103.4 569.8,103.0 570.8,102.7 571.8,102.4 572.8,102.0 573.8,101.7 574.8,101.4 575.8,101.1" fill="none" stroke="#ff0000" stroke-width="2.0" stroke-linejoin="round"/>
<path d="M487.5,170.81H490.4" stroke="#ff0000" stroke-width="2.0" fill="none"/>
<polyline points="69.5,206.4 70.3,204.4 71.1,202.4 71.8,200.4 72.6,198.4 73.4,196.4 74.2,194.4" fill="none" stroke="#ff0000" stroke-width="2.0" stroke-linejoin="round"/>
<polyline points="79.0,182.3 79.7,180.5 80.5,178.7 81.2,176.9 82.0,175.2 82.7,173.4 83.5,171.7 84.2,170.0" fill="none" stroke="#ff0000" stroke-width="2.0" stroke-linejoin="round"/>
<polyline points="89.1,159.4 89.9,157.8 90.7,156.2 91.5,154.6 92.4,153.0 93.2,151.5 94.0,150.0 94.8,148.5" fill="none" stroke="#ff0000" stroke-width="2.0" stroke-linejoin="round"/>
<polyline points="102.5,136.4 103.3,135.4 104.1,134.3 104.8,133.3 105.6,132.4 106.4,131.4 107.2,130.5 108.0,129.7 108.8,128.8 109.5,128.0 110.3,127.2 111.1,126.5" fill="none" stroke="#ff0000" stroke-width="2.0" stroke-linejoin="round"/>
<polyline points="121.3,119.7 122.1,119.3 122.9,119.0 123.7,118.8 124.5,118.6 125.4,118.4 126.2,118.2 127.0,118.1 127.8,118.0 128.6,117.9 129.4,117.9 130.2,117.9 131.0,117.9 131.8,117.9 132.7,118.0 133.5,118.1 134.3,118.3 135.1,118.5 135.9,118.6" fill="none" stroke="#ff0000" stroke-width="2.0" stroke-linejoin="round"/>
<polyline points="146.3,123.1 147.1,123.6 147.9,124.1 148.7,124.6 149.5,125.1 150.3,125.6 151.1,126.1 151.9,126.6 152.6,127.2 153.4,127.7 154.2,128.3 155.0,128.9 155.8,129.4 156.6,130.0 157.4,130.6" fill="none" stroke="#ff0000" stroke-width="2.0" stroke-linejoin="round"/>
<polyline points="168.0,138.8 168.8,139.5 169.7,140.1 170.5,140.8 171.3,141.5 172.1,142.1 172.9,142.8 173.8,143.5 174.6,144.1 175.4,144.8 176.2,145.5 177.1,146.2 177.9,146.9" fill="none" stroke="#ff0000" stroke-width="2.0" stroke-linejoin="round"/>
<polyline points="187.4,154.7 188.2,155.4 189.0,156.1 189.8,156.8 190.7,157.4 191.5,158.1 192.3,158.8 193.1,159.5 193.9,160.1 194.7,160.8 195.6,161.5 196.4,162.1 197.2,162.8 198.0,163.4" fill="none" stroke="#ff0000" stroke-width="2.0" stroke-linejoin="round"/>
<polyline points="207.4,170.8 208.2,171.4 209.0,172.0 209.8,172.6 210.6,173.2 211.4,173.8 212.2,174.4 212.9,175.0 213.7,175.6 214.5,176.1 215.3,176.7 216.1,177.3 216.9,177.8 217.7,178.4 218.5,178.9" fill="none" stroke="#ff0000" stroke-width="2.0" stroke-linejoin="round"/>
<polyline points="227.9,185.0 228.7,185.5 229.5,185.9 230.3,186.4 231.1,186.9 231.8,187.3 232.6,187.8 233.4,188.2 234.2,188.7 235.0,189.1 235.8,189.5 236.6,190.0 237.3,190.4 238.1,190.8 238.9,191.2 239.7,191.6 240.5,192.0" fill="none" stroke="#ff0000" stroke-width="2.0" stroke-linejoin="round"/>
<polyline points="243.1,193.3 243.9,193.7 244.7,194.1 245.4,194.5 246.2,194.9 247.0,195.2 247.8,195.6 248.6,195.9 249.3,196.3 250.1,196.7 250.9,197.0 251.7,197.3 252.5,197.7 253.3,198.0 254.0,198.3 254.8,198.7 255.6,199.0" fill="none" stroke="#ff0000" stroke-width="2.0" stroke-linejoin="round"/>
<polyline points="266.6,203.1 267.4,203.4 268.2,203.7 269.0,203.9 269.7,204.2 270.5,204.5 271.3,204.7 272.1,205.0 272.9,205.2 273.7,205.4 274.5,205.7 275.3,205.9 276.0,206.1 276.8,206.4 277.6,206.6 278.4,206.8 279.2,207.0 280.0,207.3 280.8,207.5 281.6,207.7 282.3,207.9 283.1,208.1 283.9,208.3 284.7,208.5" fill="none" stroke="#ff0000" stroke-width="2.0" stroke-linejoin="round"/>
<polyline points="295.3,210.9 296.1,211.1 296.9,211.2 297.6,211.4 298.4,211.5 299.2,211.7 300.0,211.8 300.8,212.0 301.6,212.1 302.4,212.2 303.1,212.4 303.9,212.5 304.7,212.7 305.5,212.8 306.3,212.9 307.0,213.0 307.8,213.2 308.6,213.3 309.4,213.4" fill="none" stroke="#ff0000" stroke-width="2.0" stroke-linejoin="round"/>
<polyline points="321.1,214.8 321.9,214.9 322.7,215.0 323.5,215.1 324.3,215.1 325.1,215.2 325.9,215.3 326.7,215.3 327.5,215.4 328.4,215.4 329.2,215.5 330.0,215.6 330.8,215.6 331.6,215.7 332.4,215.7 333.2,215.7 334.0,215.8 334.8,215.8" fill="none" stroke="#ff0000" stroke-width="2.0" stroke-linejoin="round"/>
<polyline points="346.8,216.0 347.6,216.0 348.4,216.0 349.1,216.0 349.9,216.0 350.7,216.0 351.5,215.9 352.3,215.9 353.1,215.9 353.9,215.9 354.6,215.8 355.4,215.8 356.2,215.8 357.0,215.7 357.8,215.7 358.5,215.7 359.3,215.6 360.1,215.6 360.9,215.5" fill="none" stroke="#ff0000" stroke-width="2.0" stroke-linejoin="round"/>
<polyline points="372.5,214.5 373.3,214.4 374.1,214.3 374.9,214.2 375.7,214.1 376.5,214.0 377.3,213.8 378.1,213.7 378.9,213.6 379.8,213.5 380.6,213.4 381.4,213.3 382.2,213.1 383.0,213.0 383.8,212.9 384.6,212.7 385.4,212.6 386.2,212.5" fill="none" stroke="#ff0000" stroke-width="2.0" stroke-linejoin="round"/>
<polyline points="397.7,210.2 398.5,210.0 399.3,209.8 400.1,209.6 400.9,209.4 401.7,209.2 402.5,209.0 403.3,208.8 404.2,208.6 405.0,208.4 405.8,208.2 406.6,208.0 407.4,207.8 408.2,207.6 409.0,207.4 409.8,207.1 410.6,206.9 411.4,206.7 412.2,206.5 413.0,206.2 413.8,206.0 414.6,205.7 415.4,205.5 416.3,205.3 417.1,205.0 417.9,204.8 418.7,204.5 419.5,204.3 420.3,204.0 421.1,203.7 421.9,203.5" fill="none" stroke="#ff0000" stroke-width="2.0" stroke-linejoin="round"/>
<polyline points="433.4,199.4 434.2,199.1 435.0,198.8 435.8,198.4 436.6,198.1 437.4,197.8 438.2,197.5 439.0,197.2 439.8,196.8 440.6,196.5 441.4,196.2 442.2,195.9 443.0,195.5 443.8,195.2 444.6,194.8 445.4,194.5 446.2,194.1" fill="none" stroke="#ff0000" stroke-width="2.0" stroke-linejoin="round"/>
<polyline points="456.8,189.2 457.6,188.9 458.4,188.5 459.2,188.1 460.0,187.7 460.8,187.3 461.6,186.9 462.4,186.4 463.2,186.0 464.1,185.6 464.9,185.2 465.7,184.8 466.5,184.4 467.3,183.9 468.1,183.5 468.9,183.1 469.7,182.7" fill="none" stroke="#ff0000" stroke-width="2.0" stroke-linejoin="round"/>
<polyline points="479.6,177.2 480.4,176.7 481.2,176.3 482.0,175.8 482.8,175.3 483.6,174.8 484.4,174.4 485.2,173.9 486.0,173.4 486.9,172.9 487.7,172.5 488.5,172.0 489.3,171.5 490.1,171.0 490.9,170.5 491.7,170.0 492.5,169.5 493.3,169.0" fill="none" stroke="#ff0000" stroke-width="2.0" stroke-linejoin="round"/>
<polyline points="503.2,162.8 504.0,162.3 504.8,161.7 505.6,161.2 506.4,160.7 507.2,160.2 508.0,159.6 508.8,159.1 509.6,158.6 510.4,158.1 511.2,157.5 512.0,157.0 512.8,156.5 513.6,155.9 514.4,155.4 515.2,154.8" fill="none" stroke="#ff0000" stroke-width="2.0" stroke-linejoin="round"/>
<polyline points="524.2,148.6 525.0,148.1 525.8,147.5 526.6,146.9 527.5,146.3 528.3,145.7 529.1,145.2 529.9,144.6 530.7,144.0 531.5,143.4 532.3,142.8 533.2,142.2 534.0,141.6 534.8,141.0 535.6,140.4" fill="none" stroke="#ff0000" stroke-width="2.0" stroke-linejoin="round"/>
<polyline points="545.3,133.0 546.1,132.4 546.9,131.8 547.7,131.1 548.5,130.5 549.3,129.9 550.1,129.2 550.9,128.6 551.7,127.9 552.5,127.3 553.3,126.6 554.1,126.0 554.9,125.3 555.7,124.6 556.5,124.0" fill="none" stroke="#ff0000" stroke-width="2.0" stroke-linejoin="round"/>
<polyline points="564.8,116.8 565.6,116.1 566.4,115.4 567.2,114.7 567.9,114.0 568.7,113.3 569.5,112.6 570.3,111.9 571.1,111.1 571.9,110.4 572.7,109.7 573.4,109.0 574.2,108.2 575.0,107.5 575.8,106.7" fill="none" stroke="#ff0000" stroke-width="2.0" stroke-linejoin="round"/>
<path d="M487.5,57.44H490.4" stroke="#0000ff" stroke-width="2.0" fill="none"/>
<polyline points="67.0,197.2 68.0,194.8 69.0,192.5 70.0,190.1 71.0,187.7 72.0,185.3 73.0,182.9 74.0,180.4 75.0,178.0 76.0,175.5 77.0,173.1 78.0,170.6 79.0,168.1 80.0,165.7 81.0,163.2 82.0,160.8 83.0,158.3 84.0,155.9 85.0,153.5 86.0,151.1 87.0,148.7 88.0,146.4 89.0,144.2 90.0,142.0 91.0,139.9 92.0,137.8 93.0,135.8 94.0,133.9 95.0,132.1 96.0,130.4 97.0,128.7 98.0,127.2 99.0,125.7 100.0,124.3 101.0,122.9 102.0,121.7 103.0,120.5 104.0,119.4 105.0,118.3 106.0,117.4 107.0,116.5 108.0,115.7 109.0,115.0 110.0,114.4 111.0,113.8 112.0,113.3 113.0,112.8 114.0,112.4 115.0,112.1 116.0,111.8 117.0,111.6 118.0,111.4 119.0,111.3 120.0,111.2 121.0,111.2 122.0,111.2 123.0,111.2 124.0,111.3 125.0,111.4 126.0,111.5 127.0,111.7 128.0,111.9 129.0,112.2 130.0,112.5 131.0,112.8 132.0,113.1 133.0,113.5 134.0,113.9 135.0,114.4 136.0,114.8 137.0,115.3 138.0,115.8 139.0,116.3 140.0,116.9 141.0,117.5 142.0,118.1 143.0,118.7 144.0,119.4 145.0,120.0 146.0,120.7 147.0,121.4 148.0,122.1 149.0,122.8 150.0,123.5 151.0,124.3 152.0,125.0 153.0,125.8 154.0,126.6 155.0,127.3 156.0,128.1 157.0,128.9 158.0,129.7 159.0,130.5 160.0,131.3 161.0,132.1 162.0,132.9 163.0,133.8 164.0,134.6 165.0,135.4 166.0,136.2 167.0,137.0 168.0,137.8 169.0,138.6 170.0,139.4 171.0,140.2 172.0,141.0 173.0,141.8 174.0,142.6 175.0,143.4 176.0,144.1 177.0,144.9 178.0,145.6 179.0,146.4 180.0,147.1 181.0,147.8 182.0,148.5 183.0,149.2 184.0,149.9 185.0,150.6 186.0,151.2 187.0,151.9 188.0,152.5 189.0,153.1 190.0,153.8 191.0,154.4 192.0,155.0 193.0,155.6 194.0,156.1 195.0,156.7 196.0,157.2 197.0,157.8 198.0,158.3 199.0,158.9 200.0,159.4 201.0,159.9 202.0,160.4 203.0,160.9 204.0,161.4 205.0,161.8 206.0,162.3 207.0,162.8 208.0,163.2 209.0,163.7 210.0,164.1 211.0,164.5 212.0,165.0 213.0,165.4 214.0,165.8 215.0,166.2 216.0,166.6 217.0,167.0 218.0,167.4 219.0,167.7 220.0,168.1 221.0,168.4 222.0,168.8 223.0,169.1 224.0,169.4 225.0,169.8 226.0,170.1 227.0,170.4 228.0,170.7 229.0,171.0 230.0,171.3 231.0,171.5 232.0,171.8 233.0,172.0 234.0,172.3 235.0,172.5 236.0,172.8 237.0,173.0 238.0,173.2 239.0,173.4 240.0,173.6 241.0,173.8 242.0,173.9 243.0,174.1 244.0,174.3 245.0,174.4 246.0,174.6 247.0,174.7 248.0,174.8 249.0,174.9 250.0,175.0 251.0,175.1 252.0,175.2 253.0,175.3 254.0,175.3 255.0,175.4 256.0,175.5 257.0,175.5 258.0,175.5 259.0,175.5 260.0,175.6 261.0,175.6 262.0,175.6 263.0,175.5 264.0,175.5 265.0,175.5 266.0,175.5 267.0,175.4 268.0,175.4 269.0,175.3 270.0,175.2 271.0,175.2 272.0,175.1 273.0,175.0 274.0,174.9 275.0,174.8 276.0,174.7 277.0,174.6 278.0,174.5 279.0,174.4 280.0,174.3 281.0,174.1 282.0,174.0 283.0,173.9 284.0,173.7 285.0,173.6 286.0,173.4 287.0,173.3 288.0,173.1 289.0,172.9 290.0,172.8 291.0,172.6 292.0,172.4 293.0,172.2 294.0,172.1 295.0,171.9 296.0,171.7 297.0,171.5 298.0,171.3 299.0,171.1 300.0,170.9 301.0,170.6 302.0,170.4 303.0,170.2 304.0,170.0 305.0,169.7 306.0,169.5 307.0,169.3 308.0,169.0 309.0,168.8 310.0,168.5 311.0,168.3 312.0,168.0 313.0,167.7 314.0,167.4 315.0,167.2 316.0,166.9 317.0,166.6 318.0,166.3 319.0,166.0 320.0,165.7 321.0,165.3 322.0,165.0 323.0,164.7 324.0,164.4 325.0,164.0 326.0,163.7 327.0,163.3 328.0,163.0 329.0,162.6 330.0,162.3 331.0,161.9 332.0,161.5 333.0,161.2 334.0,160.8 335.0,160.4 336.0,160.0 337.0,159.6 338.0,159.2 339.0,158.8 340.0,158.4 341.0,158.0 342.0,157.6 343.0,157.2 344.0,156.7 345.0,156.3 346.0,155.9 347.0,155.4 348.0,155.0 349.0,154.5 350.0,154.1 351.0,153.6 352.0,153.2 353.0,152.7 354.0,152.2 355.0,151.8 356.0,151.3 357.0,150.8 358.0,150.3 359.0,149.8 360.0,149.4 361.0,148.9 362.0,148.4 363.0,147.9 364.0,147.4 365.0,146.8 366.0,146.3 367.0,145.8 368.0,145.3 369.0,144.8 370.0,144.2 371.0,143.7 372.0,143.2 373.0,142.6 374.0,142.1 375.0,141.6 376.0,141.0 377.0,140.5 378.0,139.9 379.0,139.3 380.0,138.8 381.0,138.2 382.0,137.7 383.0,137.1 384.0,136.5 385.0,135.9 386.0,135.4 387.0,134.8 388.0,134.2 389.0,133.6 390.0,133.0 391.0,132.4 392.0,131.8 393.0,131.2 394.0,130.6 395.0,130.0 396.0,129.4 397.0,128.8 398.0,128.2 399.0,127.6 400.0,127.0 401.0,126.4 402.0,125.8 403.0,125.1 404.0,124.5 405.0,123.9 406.0,123.3 407.0,122.6 408.0,122.0 409.0,121.4 410.0,120.7 411.0,120.1 412.0,119.5 413.0,118.8 414.0,118.2 415.0,117.5 416.0,116.9 417.0,116.2 418.0,115.6 419.0,114.9 420.0,114.3 421.0,113.6 422.0,113.0 423.0,112.3 424.0,111.6 425.0,111.0 426.0,110.3 427.0,109.6 428.0,109.0 429.0,108.3 430.0,107.6 431.0,106.9 432.0,106.2 433.0,105.5 434.0,104.8 435.0,104.2 436.0,103.5 437.0,102.8 438.0,102.0 439.0,101.3 440.0,100.6 441.0,99.9 442.0,99.2 443.0,98.4 444.0,97.7 445.0,97.0 446.0,96.2 447.0,95.5 448.0,94.7 449.0,94.0 450.0,93.2 451.0,92.4 452.0,91.7 453.0,90.9 454.0,90.1 455.0,89.3 456.0,88.5 457.0,87.7 458.0,86.9 459.0,86.0 460.0,85.2 461.0,84.4 462.0,83.5 463.0,82.7 464.0,81.8 465.0,81.0 466.0,80.1 467.0,79.3 468.0,78.4 469.0,77.5 470.0,76.6 471.0,75.7 472.0,74.8 473.0,73.9 474.0,73.0 475.0,72.1 476.0,71.2 477.0,70.3 478.0,69.3 479.0,68.4 480.0,67.5 481.0,66.5 482.0,65.6 483.0,64.6 484.0,63.7 485.0,62.7 486.0,61.7 487.0,60.8 488.0,59.8 489.0,58.8 490.0,57.8 491.0,56.8 492.0,55.9 493.0,54.9 494.0,53.9 495.0,52.9 496.0,51.9 497.0,50.9 498.0,49.8 499.0,48.8 500.0,47.8 501.0,46.8 502.0,45.8 503.0,44.7 504.0,43.7 505.0,42.7 506.0,41.6 507.0,40.6 508.0,39.5 509.0,38.5 510.0,37.4 511.0,36.3 512.0,35.3 513.0,34.2 514.0,33.1 515.0,32.0 516.0,31.0 517.0,29.9 518.0,28.8 519.0,27.7 520.0,26.6 521.0,25.5 522.0,24.4 523.0,23.3 524.0,22.1 525.0,21.0 526.0,19.9 527.0,18.8 528.0,17.6 529.0,16.5 530.0,15.3 531.0,14.2 532.0,13.0 533.0,11.9 534.0,10.7 535.0,9.6 536.0,8.4 537.0,7.2 538.0,6.0 539.0,4.9 540.0,3.7 541.0,2.5 542.0,1.3 543.0,0.1 544.0,-1.1 545.0,-2.3 546.0,-3.6" fill="none" stroke="#0000ff" stroke-width="2.0" stroke-linejoin="round"/>
</g>
<g style="filter:grayscale(1)">
<text x="2.5" y="416.95" font-family="Liberation Sans, sans-serif" font-weight="bold" font-size="15.6" textLength="33.7" lengthAdjust="spacingAndGlyphs">0.00</text>
<text x="2.5" y="336.15" font-family="Liberation Sans, sans-serif" font-weight="bold" font-size="15.6" textLength="33.7" lengthAdjust="spacingAndGlyphs">0.02</text>
<text x="2.5" y="255.75" font-family="Liberation Sans, sans-serif" font-weight="bold" font-size="15.6" textLength="33.7" lengthAdjust="spacingAndGlyphs">0.04</text>
<text x="2.5" y="174.55" font-family="Liberation Sans, sans-serif" font-weight="bold" font-size="15.6" textLength="33.7" lengthAdjust="spacingAndGlyphs">0.06</text>
<text x="2.5" y="93.75" font-family="Liberation Sans, sans-serif" font-weight="bold" font-size="15.6" textLength="33.7" lengthAdjust="spacingAndGlyphs">0.08</text>
<text x="2.5" y="12.95" font-family="Liberation Sans, sans-serif" font-weight="bold" font-size="15.6" textLength="33.7" lengthAdjust="spacingAndGlyphs">0.10</text>
<text x="30.20" y="430.7" font-family="Liberation Sans, sans-serif" font-weight="bold" font-size="15.6" textLength="17.3" lengthAdjust="spacingAndGlyphs">10</text>
<text x="48.40" y="425.5" font-family="Liberation Sans, sans-serif" font-weight="bold" font-size="15.8" textLength="9.4" lengthAdjust="spacingAndGlyphs">0</text>
<text x="117.77" y="430.7" font-family="Liberation Sans, sans-serif" font-weight="bold" font-size="15.6" textLength="17.3" lengthAdjust="spacingAndGlyphs">10</text>
<text x="135.97" y="425.5" font-family="Liberation Sans, sans-serif" font-weight="bold" font-size="15.8" textLength="9.4" lengthAdjust="spacingAndGlyphs">1</text>
<text x="205.33" y="430.7" font-family="Liberation Sans, sans-serif" font-weight="bold" font-size="15.6" textLength="17.3" lengthAdjust="spacingAndGlyphs">10</text>
<text x="223.53" y="425.5" font-family="Liberation Sans, sans-serif" font-weight="bold" font-size="15.8" textLength="9.4" lengthAdjust="spacingAndGlyphs">2</text>
<text x="292.90" y="430.7" font-family="Liberation Sans, sans-serif" font-weight="bold" font-size="15.6" textLength="17.3" lengthAdjust="spacingAndGlyphs">10</text>
<text x="311.10" y="425.5" font-family="Liberation Sans, sans-serif" font-weight="bold" font-size="15.8" textLength="9.4" lengthAdjust="spacingAndGlyphs">3</text>
<text x="380.47" y="430.7" font-family="Liberation Sans, sans-serif" font-weight="bold" font-size="15.6" textLength="17.3" lengthAdjust="spacingAndGlyphs">10</text>
<text x="398.67" y="425.5" font-family="Liberation Sans, sans-serif" font-weight="bold" font-size="15.8" textLength="9.4" lengthAdjust="spacingAndGlyphs">4</text>
<text x="468.03" y="430.7" font-family="Liberation Sans, sans-serif" font-weight="bold" font-size="15.6" textLength="17.3" lengthAdjust="spacingAndGlyphs">10</text>
<text x="486.23" y="425.5" font-family="Liberation Sans, sans-serif" font-weight="bold" font-size="15.8" textLength="9.4" lengthAdjust="spacingAndGlyphs">5</text>
<text x="555.60" y="430.7" font-family="Liberation Sans, sans-serif" font-weight="bold" font-size="15.6" textLength="17.3" lengthAdjust="spacingAndGlyphs">10</text>
<text x="573.80" y="425.5" font-family="Liberation Sans, sans-serif" font-weight="bold" font-size="15.8" textLength="9.4" lengthAdjust="spacingAndGlyphs">6</text>
<g transform="translate(91.9,341.9) scale(1.15,1)"><text x="0" y="0" font-family="Liberation Serif, serif" font-size="32.2" stroke="#000" stroke-width="0.45">x</text></g>
<g transform="translate(111.2,341.9) scale(1.14,1)"><text x="0" y="0" font-family="Liberation Serif, serif" font-size="32.2" stroke="#000" stroke-width="0.45">P</text></g>
<g transform="translate(132.7,349.8) scale(1.19,1)"><text x="0" y="0" font-family="Liberation Serif, serif" font-size="21.8" stroke="#000" stroke-width="0.75">gq</text></g>
<g transform="translate(288.0,460.6)"><text x="0" y="0" font-family="Liberation Serif, serif" font-size="24.2" stroke="#000" stroke-width="0.5">1</text></g>
<line x1="302.6" y1="464.6" x2="316.0" y2="440.8" stroke="#000" stroke-width="1.6"/>
<g transform="translate(317.5,460.6) scale(1.1,1)"><text x="0" y="0" font-family="Liberation Serif, serif" font-size="25.5" stroke="#000" stroke-width="0.5">x</text></g>
</g>
</svg>
</body></html>
